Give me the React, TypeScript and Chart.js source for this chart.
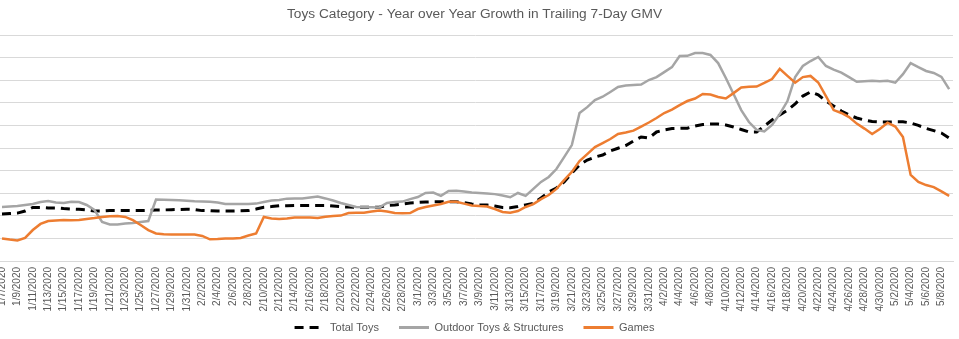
import React, { useEffect, useRef } from "react";
import { Chart, registerables } from "chart.js";

Chart.register(...registerables);

const startDate = { year: 2020, month: 0, day: 7 };
const dayCount = 124;

const categories: string[] = (() => {
  const out: string[] = [];
  const d = new Date(startDate.year, startDate.month, startDate.day);
  for (let i = 0; i < dayCount; i++) {
    out.push(`${d.getMonth() + 1}/${d.getDate()}/${d.getFullYear()}`);
    d.setDate(d.getDate() + 1);
  }
  return out;
})();

const totalToys = [
  20.8, 21.0, 21.2, 22.1, 23.7, 23.7, 23.5, 23.5, 23.2, 23.0,
  22.9, 22.6, 22.1, 22.1, 22.3, 22.3, 22.3, 22.3, 22.3, 22.4,
  22.6, 22.6, 22.7, 22.8, 22.9, 22.8, 22.3, 22.3, 22.1, 22.1,
  22.1, 22.2, 22.3, 23.0, 23.8, 24.1, 24.5, 24.5, 24.6, 24.6,
  24.6, 24.6, 24.6, 24.3, 24.0, 23.9, 23.8, 23.8, 23.8, 23.8,
  24.6, 24.8, 25.2, 25.7, 25.9, 26.1, 26.2, 26.2, 26.2, 26.2,
  25.9, 25.2, 24.8, 24.8, 24.3, 23.7, 23.6, 24.1, 24.8, 25.5,
  27.9, 30.5, 32.3, 35.0, 38.9, 42.5, 44.7, 46.0, 46.9, 48.7,
  49.9, 51.1, 53.1, 54.9, 54.4, 57.1, 58.0, 58.6, 58.7, 58.8,
  59.7, 60.4, 60.6, 60.6, 60.2, 59.3, 58.2, 57.1, 57.1, 59.7,
  62.4, 64.6, 66.8, 69.5, 73.0, 74.8, 73.5, 70.8, 68.6, 66.4,
  64.6, 63.3, 62.4, 61.7, 61.5, 61.5, 61.6, 61.6, 61.1, 60.0,
  58.7, 57.7, 56.6, 54.4,
];

const outdoorToys = [
  23.9, 24.1, 24.3, 24.8, 25.2, 26.1, 26.5, 25.9, 25.7, 26.2,
  26.1, 24.8, 22.6, 17.3, 16.2, 16.2, 16.6, 16.8, 17.3, 17.7,
  27.2, 27.1, 27.0, 26.9, 26.7, 26.4, 26.3, 26.2, 25.9, 25.2,
  25.2, 25.2, 25.2, 25.4, 26.1, 26.8, 27.0, 27.6, 27.7, 27.7,
  28.1, 28.5, 27.7, 26.8, 25.7, 24.8, 23.9, 23.8, 23.8, 23.7,
  25.7, 26.1, 26.3, 27.4, 28.3, 30.1, 30.3, 28.8, 31.0, 31.1,
  30.8, 30.3, 30.1, 29.9, 29.6, 29.0, 28.2, 30.1, 28.8, 31.9,
  35.0, 37.2, 40.7, 46.0, 51.3, 65.5, 68.1, 71.2, 72.7, 74.8,
  77.0, 77.7, 77.9, 78.1, 80.1, 81.4, 83.6, 85.8, 90.7, 90.8,
  92.0, 92.0, 91.2, 87.6, 81.0, 73.9, 66.8, 61.5, 58.0, 57.3,
  60.2, 65.0, 70.8, 81.4, 86.3, 88.5, 90.3, 86.3, 84.7, 83.4,
  81.4, 79.3, 79.6, 79.8, 79.6, 79.8, 78.9, 82.7, 87.6, 85.8,
  84.1, 83.2, 81.5, 76.1,
];

const games = [
  10.0, 9.5, 9.1, 10.2, 13.7, 16.4, 17.7, 17.9, 18.1, 18.0,
  18.1, 18.6, 19.0, 19.5, 19.8, 19.9, 19.5, 18.1, 15.9, 13.7,
  12.2, 11.8, 11.7, 11.7, 11.7, 11.7, 11.1, 9.6, 9.7, 10.0,
  10.0, 10.2, 11.3, 12.2, 19.5, 18.8, 18.6, 18.8, 19.2, 19.3,
  19.3, 19.0, 19.6, 19.9, 20.1, 21.2, 21.4, 21.4, 21.9, 22.3,
  21.9, 21.2, 21.1, 21.2, 23.0, 23.9, 24.6, 25.2, 26.2, 26.2,
  25.4, 24.6, 24.3, 24.1, 23.0, 21.7, 21.4, 22.1, 23.9, 25.2,
  27.4, 29.2, 31.9, 35.8, 39.4, 44.2, 47.3, 50.4, 52.2, 54.0,
  56.2, 56.9, 57.7, 59.5, 61.3, 63.3, 65.5, 67.0, 69.0, 70.8,
  71.9, 73.9, 73.7, 72.6, 71.9, 74.3, 76.8, 77.1, 77.2, 78.8,
  80.5, 85.0, 81.9, 78.9, 81.4, 81.9, 79.0, 73.0, 66.8, 65.5,
  63.7, 60.8, 58.6, 56.2, 58.4, 61.2, 59.5, 54.9, 38.1, 35.0,
  33.6, 32.7, 30.8, 28.8,
];

const seriesNames = ["Total Toys", "Outdoor Toys & Structures", "Games"];
const titleText = "Toys Category - Year over Year Growth in Trailing 7-Day GMV";

export default function App() {
  const ref = useRef<HTMLCanvasElement | null>(null);

  useEffect(() => {
    if (!ref.current) return;
    const textColor = "#595959";
    const fontFamily = "'Liberation Sans', Arial, sans-serif";
    const chart = new Chart(ref.current, {
      type: "line",
      data: {
        labels: categories,
        datasets: [
          {
            label: seriesNames[0],
            data: totalToys,
            borderColor: "#000000",
            backgroundColor: "#000000",
            borderWidth: 3,
            borderDash: [9, 6],
            pointRadius: 0,
            order: 3,
          },
          {
            label: seriesNames[1],
            data: outdoorToys,
            borderColor: "#A5A5A5",
            backgroundColor: "#A5A5A5",
            borderWidth: 2.5,
            pointRadius: 0,
            order: 2,
          },
          {
            label: seriesNames[2],
            data: games,
            borderColor: "#ED7D31",
            backgroundColor: "#ED7D31",
            borderWidth: 2.5,
            pointRadius: 0,
            order: 1,
          },
        ],
      },
      options: {
        responsive: false,
        animation: false,
        layout: { padding: { left: 0, right: 10, top: 0, bottom: 0 } },
        plugins: {
          title: {
            display: true,
            text: titleText,
            color: textColor,
            font: { family: fontFamily, size: 13.7, weight: "normal" },
            padding: { top: 6, bottom: 12.6 },
          },
          legend: {
            position: "bottom",
            labels: {
              color: textColor,
              font: { family: fontFamily, size: 11 },
              usePointStyle: true,
              pointStyle: "line",
              pointStyleWidth: 30,
              padding: 20,
              sort: (a: any, b: any) => a.datasetIndex - b.datasetIndex,
              generateLabels: (c: any) => {
                const items = Chart.defaults.plugins.legend.labels.generateLabels(c);
                return items.map((it: any) => {
                  const ds: any = c.data.datasets[it.datasetIndex];
                  return {
                    ...it,
                    lineDash: ds.borderDash || [],
                    lineWidth: 3,
                    strokeStyle: ds.borderColor,
                    fillStyle: ds.borderColor,
                    lineCap: "butt",
                  };
                });
              },
            },
          },
          tooltip: { enabled: false },
        },
        scales: {
          x: {
            offset: true,
            grid: { display: false, drawTicks: false },
            border: { display: true, color: "#d9d9d9", width: 1 },
            afterFit: (scale: any) => {
              scale.height = 41;
              scale._computeLabelArea = () => undefined;
            },
            ticks: {
              autoSkip: false,
              minRotation: 90,
              maxRotation: 90,
              padding: 6,
              color: textColor,
              font: { family: fontFamily, size: 10 },
              callback: (_v: any, i: number) => (i % 2 === 0 ? categories[i] : null),
            },
          },
          y: {
            min: 0,
            max: 100,
            ticks: { display: false, stepSize: 10 },
            grid: { color: "#d9d9d9", drawTicks: false },
            border: { display: false },
          },
        },
      },
    });
    return () => chart.destroy();
  }, []);

  return (
    <div
      style={{
        position: "fixed",
        left: 0,
        top: 0,
        width: 959,
        height: 339,
        overflow: "hidden",
        background: "#ffffff",
      }}
    >
      <canvas
        ref={ref}
        width={967}
        height={343}
        style={{ position: "absolute", left: -4, top: 0, width: 967, height: 343 }}
      />
    </div>
  );
}
